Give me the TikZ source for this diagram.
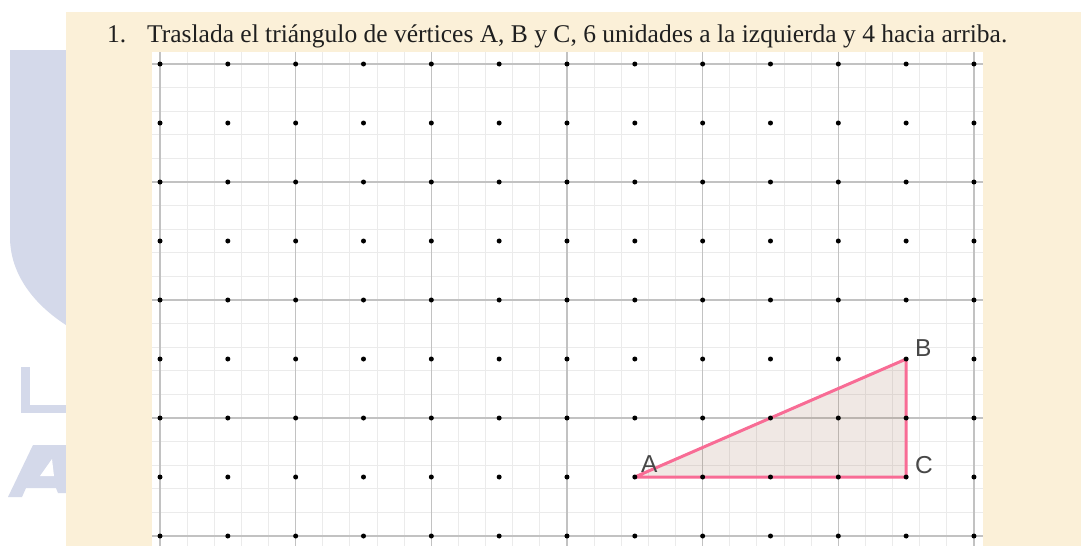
\documentclass[tikz,border=0pt]{standalone}
\usepackage{fontspec}
\setmainfont{Liberation Serif}
\newfontfamily\labelfont{Liberation Sans}
\definecolor{parchment}{HTML}{FBF0D8}
\definecolor{wmark}{HTML}{D4D9EA}
\definecolor{tripink}{HTML}{F86C95}
\definecolor{trifill}{HTML}{9B6B4B}
\definecolor{majorgray}{HTML}{C2C2C2}
\definecolor{minorgray}{HTML}{EBEBEB}
\begin{document}
\begin{tikzpicture}[x=1pt,y=-1pt,
  majorline/.style={draw=majorgray, line width=1.4pt},
  minorline/.style={draw=minorgray, line width=0.9pt},
  griddot/.style={circle, fill=black, inner sep=0pt, minimum size=5pt},
  vlabel/.style={font=\labelfont\fontsize{24.5}{25}\selectfont, text=black!72, inner sep=0pt, anchor=base west},
  triedge/.style={draw=tripink, line width=3pt, line join=round, line cap=round},
  titletext/.style={font=\fontsize{25.5}{27}\selectfont, text=black!88, inner sep=0pt, anchor=base west}]
\useasboundingbox (0,0) rectangle (1081,546);
\fill[white] (0,0) rectangle (1081,546);
% watermark letters
\fill[wmark] (10,50) -- (66,50) -- (66,325) .. controls (35,305) and (10,275) .. (10,237) -- cycle;
\fill[wmark] (21,367) rectangle (30,413);
\fill[wmark] (21,405) rectangle (66,413);
\fill[wmark] (8,497) -- (33,445) -- (66,445) -- (66,493) -- (58,493) -- (56,488) -- (26,488) -- (22,497) -- cycle;
\fill[white] (40,476) -- (54,476) -- (52,459) -- cycle;
% parchment
\fill[parchment] (66,12) rectangle (1081,546);
% grid paper
\fill[white] (152,52) rectangle (983,546);
\begin{scope}
  \clip (152,52) rectangle (983,546);
  \foreach \i in {0,...,30} {\draw[minorline] ({160+\i*27.133},52) -- ({160+\i*27.133},546);}
  \foreach \j in {0,...,20} {\draw[minorline] (152,{64+\j*23.6}) -- (983,{64+\j*23.6});}
  \foreach \i in {0,...,6} {\draw[majorline] ({160+\i*135.67},52) -- ({160+\i*135.67},546);}
  \foreach \j in {0,...,4} {\draw[majorline] (152,{64+\j*118}) -- (983,{64+\j*118});}
\end{scope}
% triangle
\coordinate (A) at (634.8,477);
\coordinate (B) at (906.2,359);
\coordinate (C) at (906.2,477);
\fill[trifill, opacity=0.15] (A) -- (B) -- (C) -- cycle;
\draw[triedge] (A) -- (B) -- (C) -- cycle;
% dots
\foreach \i in {0,...,12} {
  \foreach \j in {0,...,8} {
    \node[griddot] (d-\i-\j) at ({160+\i*67.83},{64+\j*59}) {};
  }
}
% labels
\node[vlabel] (labA) at (641,472) {A};
\node[vlabel] (labB) at (915,356) {B};
\node[vlabel] (labC) at (915,473) {C};
% title
\node[titletext] (num) at (107,42) {1.};
\node[titletext] (title) at (147,42) {Traslada el triángulo de vértices A, B y C, 6 unidades a la izquierda y 4 hacia arriba.};
\end{tikzpicture}
\end{document}
